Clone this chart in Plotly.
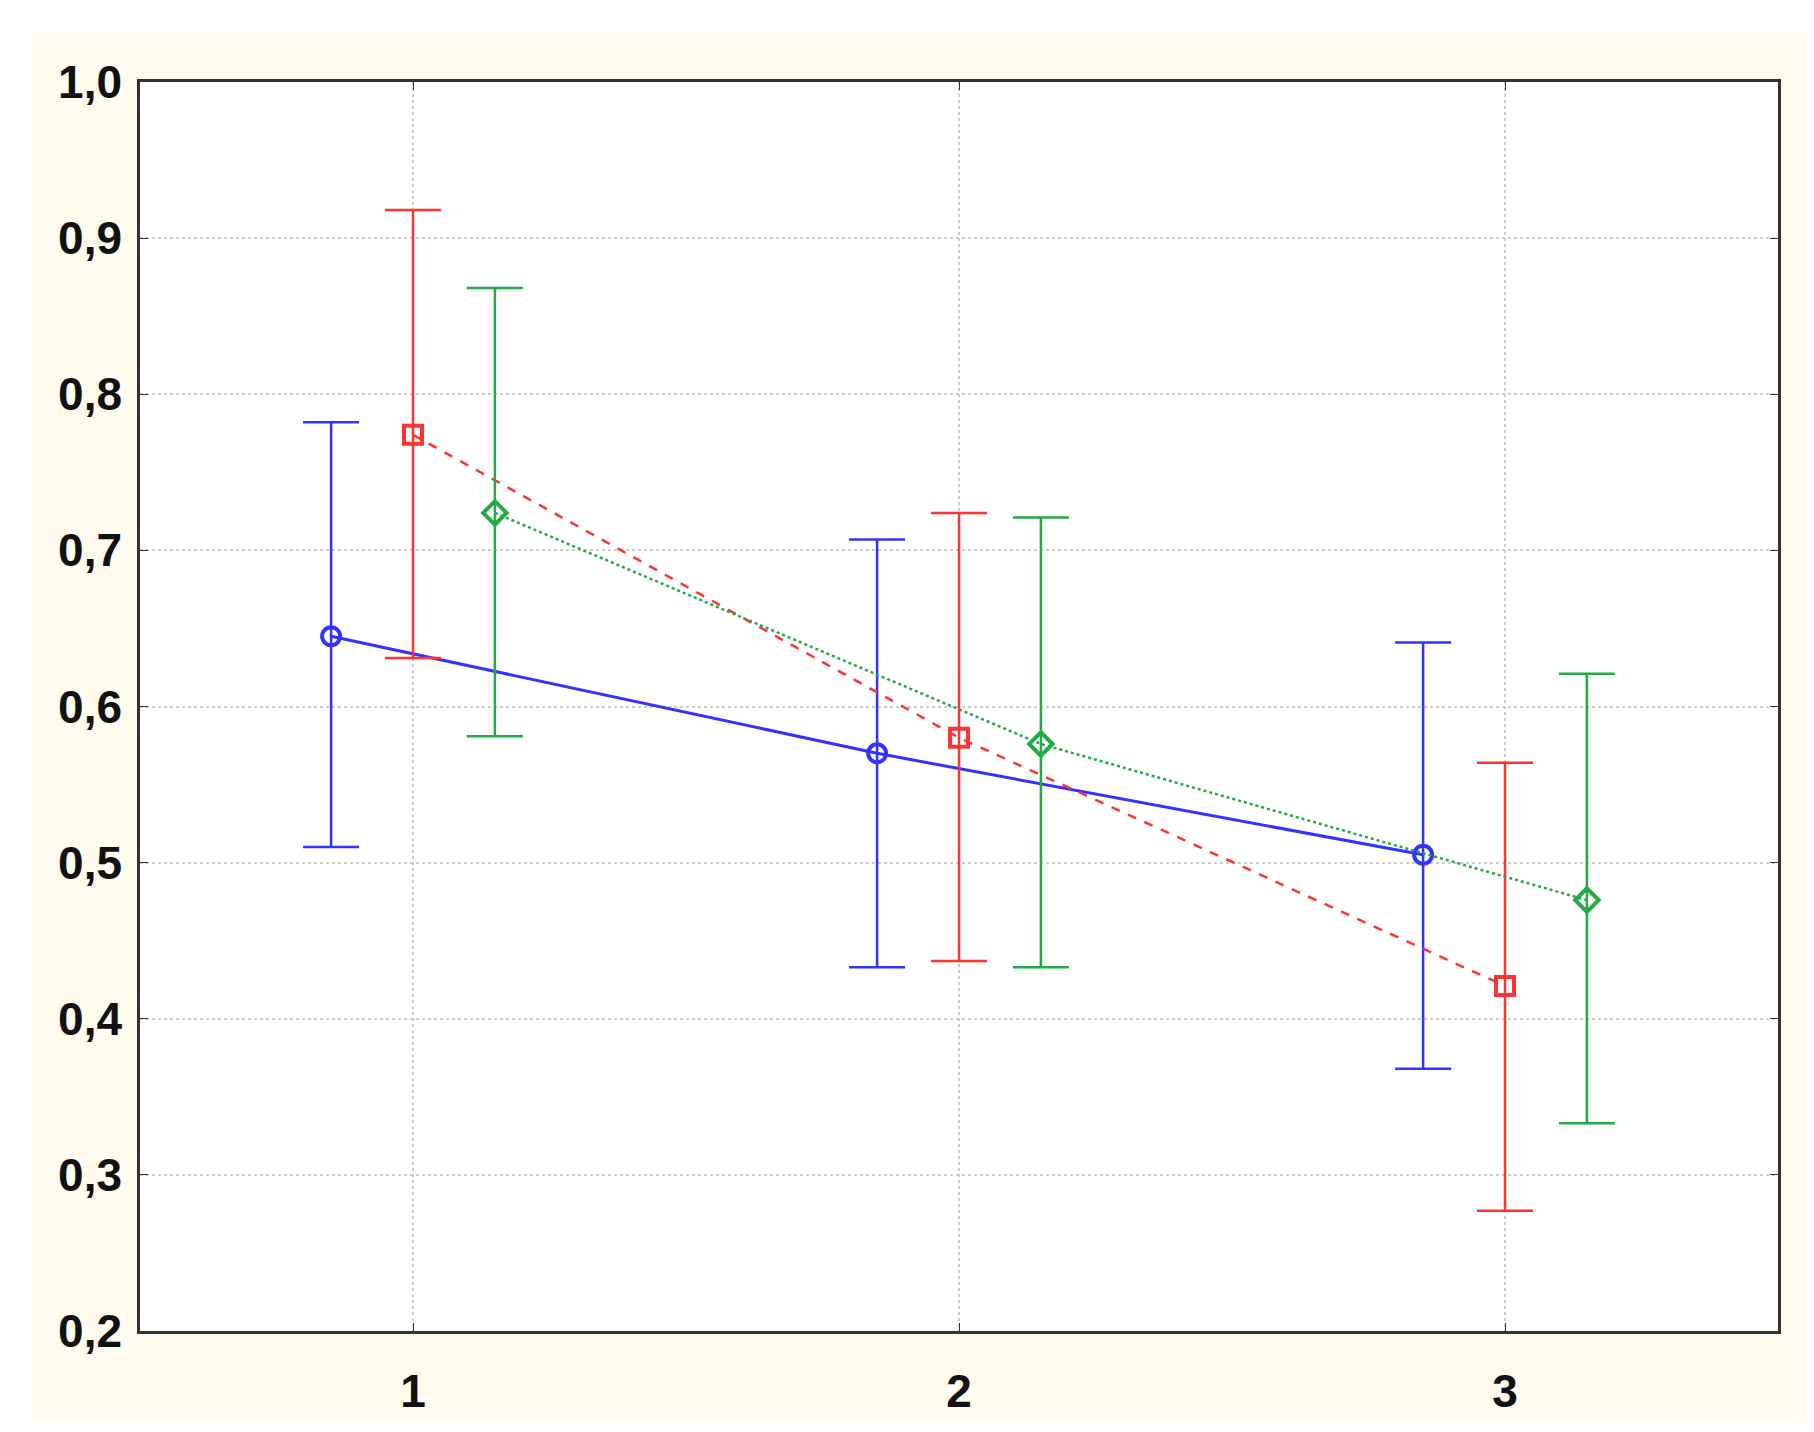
import plotly.graph_objects as go

groups = [1, 2, 3]
offsets = [-0.15, 0.0, 0.15]

blue_mean = [0.645, 0.570, 0.505]
blue_lo = [0.510, 0.433, 0.368]
blue_hi = [0.782, 0.707, 0.641]

red_mean = [0.774, 0.580, 0.421]
red_lo = [0.631, 0.437, 0.277]
red_hi = [0.918, 0.724, 0.564]

green_mean = [0.724, 0.576, 0.476]
green_lo = [0.581, 0.433, 0.333]
green_hi = [0.868, 0.721, 0.621]

series = [
    (blue_mean, blue_lo, blue_hi, offsets[0], "#3333ff", "solid", "circle-open", 3),
    (red_mean, red_lo, red_hi, offsets[1], "#ff3333", "dash", "square-open", 2.5),
    (green_mean, green_lo, green_hi, offsets[2], "#22aa44", "dot", "diamond-open", 2.5),
]

fig = go.Figure()
for mean, lo, hi, off, col, dash, sym, lw in series:
    xs = [g + off for g in groups]
    fig.add_trace(go.Scatter(
        x=xs, y=mean, mode="lines+markers",
        line=dict(color=col, width=lw, dash=dash),
        marker=dict(symbol=sym, size=18, color=col, line=dict(width=4, color=col)),
        error_y=dict(type="data", symmetric=False,
                     array=[h - m for h, m in zip(hi, mean)],
                     arrayminus=[m - l for m, l in zip(mean, lo)],
                     color=col, thickness=2.5, width=28),
        showlegend=False,
    ))

# cream frame behind the plot, white plot area on top of it
fig.add_shape(type="rect", xref="paper", yref="paper", x0=-0.066, x1=1.018,
              y0=-0.073, y1=1.039, fillcolor="#fffbee", line_width=0, layer="below")
fig.add_shape(type="rect", xref="paper", yref="paper", x0=0, x1=1,
              y0=0, y1=1, fillcolor="white", line_width=0, layer="below")

axis_font = dict(family="Liberation Sans Narrow, Liberation Sans", size=46,
                 color="#111111", weight="bold")
fig.update_layout(
    width=1814, height=1432,
    margin=dict(l=132, r=44, t=74, b=109),
    paper_bgcolor="white", plot_bgcolor="rgba(0,0,0,0)",
    separators=",.",
    xaxis=dict(range=[0.5, 3.5], tickvals=groups, ticktext=["1", "2", "3"],
               showgrid=True, gridcolor="#cccccc", griddash="dot", gridwidth=1.5,
               showline=True, linecolor="#333333", linewidth=2.5, mirror="ticks",
               ticks="inside", ticklen=8, tickcolor="#333333",
               tickfont=axis_font, zeroline=False, ticklabelstandoff=18),
    yaxis=dict(range=[0.2, 1.0], dtick=0.1, tickformat=".1f",
               showgrid=True, gridcolor="#cccccc", griddash="dot", gridwidth=1.5,
               showline=True, linecolor="#333333", linewidth=2.5, mirror="ticks",
               ticks="inside", ticklen=8, tickcolor="#333333",
               tickfont=axis_font, zeroline=False, ticklabelstandoff=6),
)

fig.write_html("out.html")
